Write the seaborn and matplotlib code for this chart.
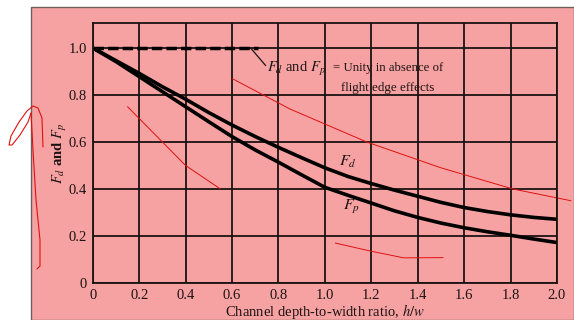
import numpy as np
import pandas as pd
import seaborn as sns
import matplotlib.pyplot as plt
from matplotlib.patches import Rectangle
from matplotlib.lines import Line2D

# --- Data ---
ratio = [0.0, 0.1, 0.2, 0.3, 0.4, 0.5, 0.6, 0.7, 0.8, 0.9, 1.0,
         1.1, 1.2, 1.3, 1.4, 1.5, 1.6, 1.7, 1.8, 1.9, 2.0]
f_drag = [1.0, 0.946, 0.892, 0.835, 0.782, 0.725, 0.672, 0.623, 0.577, 0.533, 0.490,
          0.453, 0.423, 0.395, 0.369, 0.343, 0.321, 0.304, 0.290, 0.279, 0.271]
f_pressure = [1.0, 0.942, 0.878, 0.814, 0.750, 0.686, 0.623, 0.566, 0.514, 0.460, 0.407,
              0.373, 0.340, 0.307, 0.279, 0.255, 0.235, 0.218, 0.203, 0.187, 0.172]
unity_x = [0.0, 0.713]
unity_y = [1.0, 1.0]
x_ticks = [0, 0.2, 0.4, 0.6, 0.8, 1.0, 1.2, 1.4, 1.6, 1.8, 2.0]
x_tick_labels = ["0", "0.2", "0.4", "0.6", "0.8", "1.0", "1.2", "1.4", "1.6", "1.8", "2.0"]
y_ticks = [0, 0.2, 0.4, 0.6, 0.8, 1.0]
y_tick_labels = ["0", "0.2", "0.4", "0.6", "0.8", "1.0"]

# hand-drawn red pen strokes on the scan (data coords)
pen_strokes = [
    ([0.15, 0.22, 0.29, 0.40, 0.55], [0.75, 0.68, 0.61, 0.50, 0.40]),
    ([0.60, 0.85, 1.18, 1.50, 1.81, 2.06], [0.87, 0.74, 0.60, 0.49, 0.40, 0.35]),
    ([1.045, 1.20, 1.34, 1.51], [0.17, 0.135, 0.107, 0.108]),
]
# pen strokes in the left margin (figure pixels from top-left)
margin_strokes = [
    ([43, 42, 38, 33, 27, 19, 11, 9, 12, 20, 28, 31], [147, 118, 108, 106, 111, 122, 136, 145, 145, 135, 122, 113]),
    ([31, 33, 36, 40, 40, 37], [113, 150, 200, 240, 266, 269]),
]

PINK = "#F7A2A2"
INK = "#1c1212"

sns.set_theme(style="white")
plt.rcParams["font.family"] = ["Liberation Serif", "DejaVu Serif"]
plt.rcParams["mathtext.fontset"] = "stix"

W, H = 574, 320
fig = plt.figure(figsize=(W / 100, H / 100), dpi=100)
fig.patch.set_facecolor("white")
# pink scanned page area
fig.patches.append(Rectangle((31 / W, 0), 1 - 31 / W, 1 - 7 / H, transform=fig.transFigure,
                             facecolor=PINK, edgecolor="#6f6060", linewidth=1.0, zorder=-5))

ax = fig.add_axes([92.7 / W, 1 - 283 / H, (557 - 92.7) / W, (283 - 23) / H])
ax.set_zorder(2)
ax.set_facecolor("none")

df = pd.DataFrame({
    "ratio": ratio * 2,
    "factor": f_drag + f_pressure,
    "kind": ["Fd"] * len(ratio) + ["Fp"] * len(ratio),
})
sns.lineplot(data=df, x="ratio", y="factor", units="kind", estimator=None,
             color="black", linewidth=2.6, ax=ax, legend=False)
sns.lineplot(x=unity_x, y=unity_y, color="black", linewidth=2.5, ax=ax,
             dashes=False, linestyle=(0, (3.0, 1.2)))

ax.set_xlim(0, 2.0)
ax.set_ylim(0, 1.106)
ax.set_xticks(x_ticks, x_tick_labels)
ax.set_yticks(y_ticks, y_tick_labels)
ax.tick_params(length=0, labelsize=10.5, colors=INK)
ax.tick_params(axis="y", pad=4)
ax.tick_params(axis="x", pad=4)
ax.grid(True, color=INK, linewidth=1.3)
for s in ax.spines.values():
    s.set_color(INK)
    s.set_linewidth(1.3)

ax.set_xlabel("Channel depth-to-width ratio, $\\mathit{h/w}$", fontsize=10.5, color=INK, labelpad=0)
ax.set_ylabel("$F_d$ and $F_p$", fontsize=10.5, color=INK, labelpad=0, fontweight="bold")

# curve labels
ax.text(1.10, 0.515, "$F_d$", fontsize=11.5, color=INK, ha="center", va="center")
ax.text(1.115, 0.325, "$F_p$", fontsize=11.5, color=INK, ha="center", va="center")

# annotation for the unity line
ax.plot([0.68, 0.745], [1.0, 0.925], color=INK, linewidth=0.9)
ax.text(0.752, 0.912, "$F_d$ and $F_p$", fontsize=10.5, color=INK, ha="left", va="center")
ax.text(1.035, 0.915, "= Unity in absence of", fontsize=9.2, color=INK, ha="left", va="center")
ax.text(1.471, 0.83, "flight edge effects", fontsize=9.4, color=INK, ha="right", va="center")

# red pen scribbles
for xs, ys in pen_strokes:
    ax.plot(xs, ys, color="#e01010", linewidth=0.7, clip_on=False)
for xs, ys in margin_strokes:
    fig.add_artist(Line2D([x / W for x in xs], [1 - y / H for y in ys],
                          transform=fig.transFigure, color="#e01010", linewidth=0.8))

fig.savefig("out.png", dpi=100)
